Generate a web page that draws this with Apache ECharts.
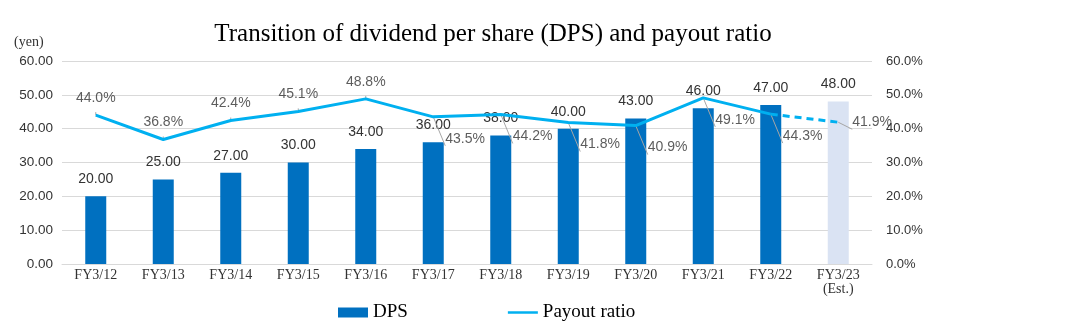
<!DOCTYPE html>
<html><head><meta charset="utf-8">
<script src="https://cdn.jsdelivr.net/npm/echarts@6/dist/echarts.min.js"></script>
<style>html,body{margin:0;padding:0;background:#fff}#c{width:1071px;height:329px}</style>
</head><body><div id="c"></div>
<script>
const categories = ['FY3/12','FY3/13','FY3/14','FY3/15','FY3/16','FY3/17','FY3/18','FY3/19','FY3/20','FY3/21','FY3/22','FY3/23\n(Est.)'];
const dps = [20,25,27,30,34,36,38,40,43,46,47,48];
const payout = [44.0,36.8,42.4,45.1,48.8,43.5,44.2,41.8,40.9,49.1,44.3,41.9];
const leftTicks = [0,10,20,30,40,50,60];
const estIndex = 11;

const barData = dps.map((v,i)=>({value:v,itemStyle:{color: i===estIndex ? '#DAE3F3' : '#0070C0'}}));
const solidLine = payout.map((v,i)=> i<=10 ? v : null);
const dashLine = payout.map((v,i)=> i>=10 ? v : null);
const sans = 'Liberation Sans';
const serif = 'Liberation Serif';

const chart = echarts.init(document.getElementById('c'));
chart.setOption({
  animation:false,
  title:{text:'Transition of dividend per share (DPS) and payout ratio',left:488,top:17,textAlign:'center',
    textStyle:{fontFamily:serif,fontWeight:'normal',fontSize:25,color:'#000'}},
  graphic:[{type:'text',left:14,top:35,style:{text:'(yen)',font:'14px '+serif,fill:'#333'}}],
  legend:{bottom:2,left:333,itemGap:100,itemWidth:30,itemHeight:10,
    textStyle:{fontFamily:serif,fontSize:19,color:'#000'},
    data:[{name:'DPS',icon:'rect'},{name:'Payout ratio',icon:'path://M0,0 L30,0 L30,2.5 L0,2.5 Z'}]},
  grid:{left:62,right:199,top:61,bottom:65},
  xAxis:{type:'category',data:categories,
    axisLine:{lineStyle:{color:'#d9d9d9'}},axisTick:{show:false},
    axisLabel:{fontFamily:serif,fontSize:14,color:'#333',margin:4,lineHeight:14}},
  yAxis:[
    {type:'value',min:0,max:60,interval:10,
     axisLabel:{formatter:v=>v.toFixed(2),fontFamily:sans,fontSize:13.5,color:'#333',margin:9},
     splitLine:{lineStyle:{color:'#d9d9d9'}},axisLine:{show:false},axisTick:{show:false}},
    {type:'value',min:0,max:60,interval:10,
     axisLabel:{formatter:v=>v.toFixed(1)+'%',fontFamily:sans,fontSize:13,color:'#333',margin:14},
     splitLine:{show:false},axisLine:{show:false},axisTick:{show:false}}
  ],
  series:[
    {name:'DPS',type:'bar',data:barData,barWidth:21,itemStyle:{color:'#0070C0'},
     label:{show:true,position:'top',distance:10,formatter:p=>p.value.toFixed(2),fontFamily:sans,fontSize:14,color:'#333'}},
    {name:'Payout ratio',type:'line',yAxisIndex:1,data:solidLine,symbol:'none',
     lineStyle:{color:'#00B0F0',width:3},itemStyle:{color:'#00B0F0'},
     label:{show:false}},
    {name:'Payout ratio',type:'line',yAxisIndex:1,data:dashLine,symbol:'none',
     lineStyle:{color:'#00B0F0',width:3,type:[7,5]},itemStyle:{color:'#00B0F0'},label:{show:false}},
    {name:'labels',type:'scatter',yAxisIndex:1,symbolSize:0,silent:true,
     data:payout.map((v,i)=>{
       let lab;
       if(i<=4) lab={position:'top',distance:10};
       else if(i===11) lab={position:'right',distance:14};
       else lab={position:'right',distance:4,offset:[8,22]};
       return {value:[i,v],label:lab};
     }),
     label:{show:true,formatter:p=>p.value[1].toFixed(1)+'%',fontFamily:sans,fontSize:14,color:'#333'},
     labelLine:{show:true,lineStyle:{color:'#a6a6a6',width:1}}
    }
  ]
});
</script></body></html>
